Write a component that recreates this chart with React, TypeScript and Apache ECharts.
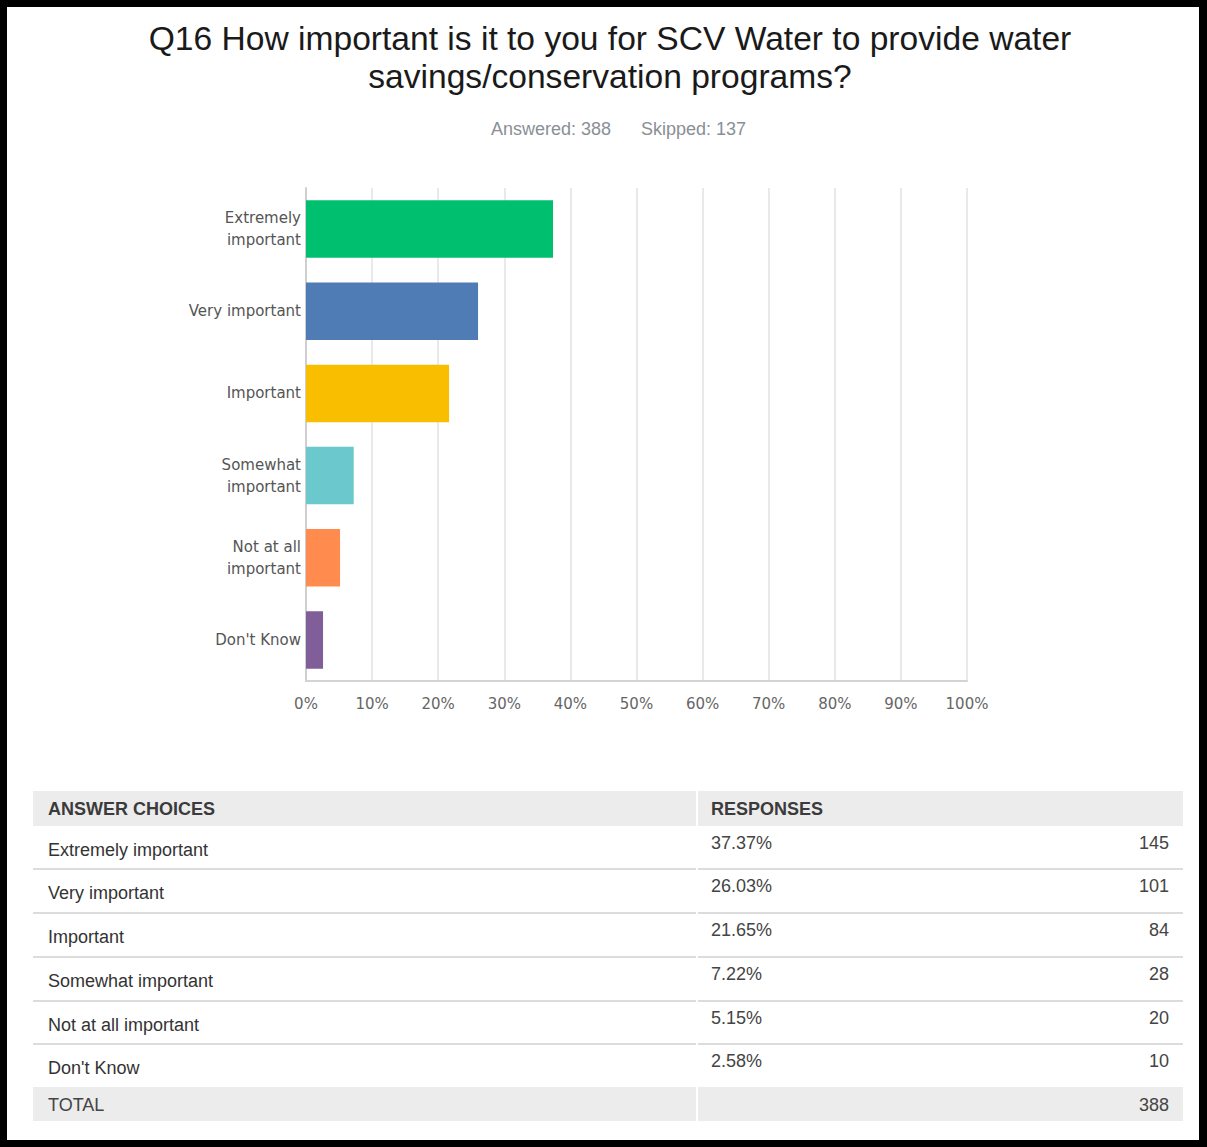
import React, { useEffect, useRef } from "react";
import * as echarts from "echarts";

const titleLines = [
  "Q16 How important is it to you for SCV Water to provide water",
  "savings/conservation programs?",
];
const answeredText = "Answered: 388";
const skippedText = "Skipped: 137";

const categories = [
  "Extremely\nimportant",
  "Very important",
  "Important",
  "Somewhat\nimportant",
  "Not at all\nimportant",
  "Don't Know",
];
const tableChoices = [
  "Extremely important",
  "Very important",
  "Important",
  "Somewhat important",
  "Not at all important",
  "Don't Know",
];
const percents = [37.37, 26.03, 21.65, 7.22, 5.15, 2.58];
const percentLabels = ["37.37%", "26.03%", "21.65%", "7.22%", "5.15%", "2.58%"];
const counts = [145, 101, 84, 28, 20, 10];
const totalCount = 388;
const barColors = ["#00bf6f", "#507cb6", "#f9be00", "#6bc8cd", "#ff8b4f", "#7f5e99"];

const tableFont = "'Liberation Sans', Arial, sans-serif";
const axisFont = "'DejaVu Sans', sans-serif";

export default function App() {
  const ref = useRef<HTMLDivElement>(null);
  useEffect(() => {
    document.body.style.margin = "0";
    const chart = echarts.init(ref.current!, null, { renderer: "svg" });

    const graphics: any[] = [];
    graphics.push({
      type: "rect",
      z: -10,
      shape: { x: 7, y: 7, width: 1192, height: 1133 },
      style: { fill: "#ffffff" },
    });
    titleLines.forEach((t, i) => {
      graphics.push({
        type: "text",
        x: 610,
        y: 38 + i * 38,
        style: {
          text: t,
          fontSize: 33.6,
          fontFamily: tableFont,
          fill: "#1a1a1a",
          textAlign: "center",
          textVerticalAlign: "middle",
        },
      });
    });
    graphics.push({
      type: "text",
      x: 491,
      y: 129,
      style: { text: answeredText, fontSize: 18, fontFamily: tableFont, fill: "#8a8f96", textVerticalAlign: "middle" },
    });
    graphics.push({
      type: "text",
      x: 641,
      y: 129,
      style: { text: skippedText, fontSize: 18, fontFamily: tableFont, fill: "#8a8f96", textVerticalAlign: "middle" },
    });

    // table
    const tL = 33, tSplit = 696, tR = 1183;
    const headTop = 791, headH = 35;
    const fs = 18;
    graphics.push({ type: "rect", shape: { x: tL, y: headTop, width: tSplit - tL, height: headH }, style: { fill: "#ececec" } });
    graphics.push({ type: "rect", shape: { x: tSplit + 2, y: headTop, width: tR - tSplit - 2, height: headH }, style: { fill: "#ececec" } });
    graphics.push({
      type: "text", x: 48, y: headTop + 18,
      style: { text: "ANSWER CHOICES", fontSize: fs, fontWeight: "bold", fontFamily: tableFont, fill: "#3b3b3b", textVerticalAlign: "middle" },
    });
    graphics.push({
      type: "text", x: 711, y: headTop + 18,
      style: { text: "RESPONSES", fontSize: fs, fontWeight: "bold", fontFamily: tableFont, fill: "#3b3b3b", textVerticalAlign: "middle" },
    });
    const rowTops = [826, 869, 913, 957, 1001, 1044];
    tableChoices.forEach((c, i) => {
      const top = rowTops[i];
      graphics.push({
        type: "text", x: 48, y: top + 24,
        style: { text: c, fontSize: fs, fontFamily: tableFont, fill: "#333333", textVerticalAlign: "middle" },
      });
      graphics.push({
        type: "text", x: 711, y: top + 17,
        style: { text: percentLabels[i], fontSize: fs, fontFamily: tableFont, fill: "#444444", textVerticalAlign: "middle" },
      });
      graphics.push({
        type: "text", x: 1169, y: top + 17,
        style: { text: String(counts[i]), fontSize: fs, fontFamily: tableFont, fill: "#444444", textAlign: "right", textVerticalAlign: "middle" },
      });
      if (i < tableChoices.length - 1) {
        const ly = rowTops[i + 1];
        graphics.push({ type: "line", shape: { x1: tL, y1: ly, x2: tSplit, y2: ly }, style: { stroke: "#dcdcdc", lineWidth: 2 } });
        graphics.push({ type: "line", shape: { x1: tSplit + 2, y1: ly, x2: tR, y2: ly }, style: { stroke: "#dcdcdc", lineWidth: 2 } });
      }
    });
    const totTop = 1087, totH = 34;
    graphics.push({ type: "rect", shape: { x: tL, y: totTop, width: tSplit - tL, height: totH }, style: { fill: "#ececec" } });
    graphics.push({ type: "rect", shape: { x: tSplit + 2, y: totTop, width: tR - tSplit - 2, height: totH }, style: { fill: "#ececec" } });
    graphics.push({
      type: "text", x: 48, y: totTop + 18,
      style: { text: "TOTAL", fontSize: fs, fontFamily: tableFont, fill: "#444444", textVerticalAlign: "middle" },
    });
    graphics.push({
      type: "text", x: 1169, y: totTop + 18,
      style: { text: String(totalCount), fontSize: fs, fontFamily: tableFont, fill: "#444444", textAlign: "right", textVerticalAlign: "middle" },
    });

    chart.setOption({
      animation: false,
      backgroundColor: "#000000",
      graphic: graphics,
      grid: { left: 306, right: 240, top: 188, height: 493, containLabel: false },
      xAxis: {
        type: "value",
        min: 0,
        max: 100,
        interval: 10,
        axisLabel: {
          formatter: "{value}%",
          fontSize: 15,
          color: "#666666",
          fontFamily: axisFont,
          margin: 15,
        },
        axisLine: { show: true, lineStyle: { color: "#d4d4d4", width: 2 } },
        axisTick: { show: false },
        splitLine: { show: true, lineStyle: { color: "#e9e9e9", width: 2 } },
      },
      yAxis: {
        type: "category",
        inverse: true,
        data: categories,
        axisTick: { show: false },
        axisLine: { show: true, lineStyle: { color: "#cfcfcf", width: 2 } },
        axisLabel: {
          fontSize: 15,
          lineHeight: 22,
          color: "#555555",
          fontFamily: axisFont,
          margin: 5,
          padding: [4, 0, 0, 0],
        },
      },
      series: [
        {
          type: "bar",
          data: percents.map((v, i) => ({ value: v, itemStyle: { color: barColors[i] } })),
          barCategoryGap: "30%",
        },
      ],
    });
    return () => chart.dispose();
  }, []);
  return <div ref={ref} style={{ width: 1207, height: 1147 }} />;
}
